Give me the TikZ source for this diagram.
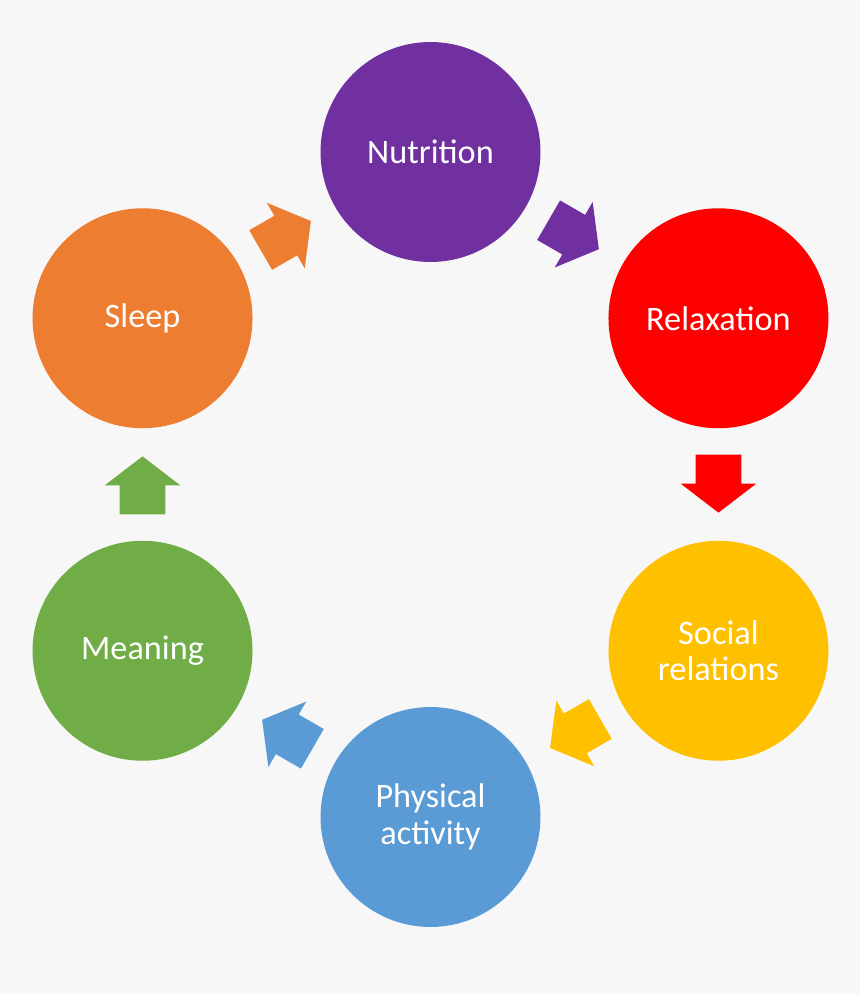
\documentclass[tikz,border=0pt]{standalone}
\usepackage{fontspec}
\setmainfont{Carlito}
\usepackage{tikz}
\usetikzlibrary{shapes,shapes.arrows,positioning,calc}
\definecolor{fondgris}{HTML}{F7F7F7}
\definecolor{violet}{HTML}{7030A0}
\definecolor{rouge}{HTML}{FF0000}
\definecolor{jaune}{HTML}{FFC000}
\definecolor{bleu}{HTML}{5B9BD5}
\definecolor{vert}{HTML}{70AD47}
\definecolor{orange}{HTML}{ED7D31}

\begin{document}
\begin{tikzpicture}[
    x=0.02cm,y=0.02cm,
    rond/.style   = {circle,minimum size=4.4cm,inner sep=0pt,text=white,
                     align=center,font=\fontsize{19.5}{21}\selectfont},
    fleche/.style = {single arrow,minimum height=1.16cm,inner xsep=0pt,
                     inner ysep=0.45cm,single arrow head extend=0.3cm,
                     single arrow tip angle=105,anchor=tip},
  ]

  % fond
  \fill[fondgris] (-430.5,-509.5) rectangle (429.5,484.5);

  \node[rond,fill=violet] (nut)   at (90:332.5)   {Nutrition};
  \node[rond,fill=rouge]  (relax) at (30:332.5)   {Relaxation};
  \node[rond,fill=jaune]  (soc)   at (-30:332.5)  {Social\\relations};
  \node[rond,fill=bleu]   (phys)  at (-90:332.5)  {Physical\\activity};
  \node[rond,fill=vert]   (sens)  at (-150:332.5) {Meaning};
  \node[rond,fill=orange] (somm)  at (150:332.5)  {Sleep};

  % fleches entre les cercles (pointe un peu au-dela du milieu)
  \node[fleche,fill=violet,rotate=-30]  (f1) at ($(nut)!0.586!(relax)$) {};
  \node[fleche,fill=rouge,rotate=-90]   (f2) at ($(relax)!0.586!(soc)$) {};
  \node[fleche,fill=jaune,rotate=-150]  (f3) at ($(soc)!0.586!(phys)$)  {};
  \node[fleche,fill=bleu,rotate=150]    (f4) at ($(phys)!0.586!(sens)$) {};
  \node[fleche,fill=vert,rotate=90]     (f5) at ($(sens)!0.586!(somm)$) {};
  \node[fleche,fill=orange,rotate=30]   (f6) at ($(somm)!0.586!(nut)$)  {};

\end{tikzpicture}
\end{document}
